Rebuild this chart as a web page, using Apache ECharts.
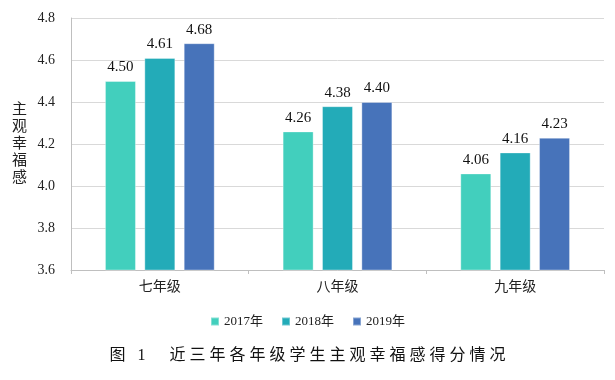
<!DOCTYPE html>
<html><head><meta charset="utf-8">
<script src="https://cdn.jsdelivr.net/npm/echarts@6/dist/echarts.min.js"></script>
<style>html,body{margin:0;padding:0;background:#fff}#c{width:615px;height:380px}</style>
</head><body><div id="c"></div>
<script>
const categories = ['七年级', '八年级', '九年级'];
const seriesNames = ['2017年', '2018年', '2019年'];
const v2017 = [4.50, 4.26, 4.06];
const v2018 = [4.61, 4.38, 4.16];
const v2019 = [4.68, 4.40, 4.23];
const yTicks = ['3.6', '3.8', '4.0', '4.2', '4.4', '4.6', '4.8'];
const yName = '主观幸福感';
const title = '图 1　近三年各年级学生主观幸福感得分情况';

const colors = ['#42CFBD', '#23ABB8', '#4773BA'];
const serif = '"Liberation Serif", "Noto Sans CJK SC", serif';
const vals = [v2017, v2018, v2019];

const chart = echarts.init(document.getElementById('c'), null, {renderer: 'canvas'});
chart.setOption({
  animation: false,
  textStyle: {fontFamily: serif},
  grid: {left: 71, right: 11, top: 18, bottom: 110, containLabel: false},
  legend: {
    bottom: 47, left: 'center',
    itemWidth: 8, itemHeight: 8, itemGap: 18, icon: 'rect',
    textStyle: {fontFamily: serif, fontSize: 13, color: '#222'},
    data: seriesNames
  },
  title: {
    text: title.split('').join(' '),
    left: 'center', bottom: 11,
    textStyle: {fontFamily: serif, fontSize: 16, fontWeight: 'normal', color: '#111'}
  },
  xAxis: {
    type: 'category', data: categories,
    axisLine: {show: true, lineStyle: {color: '#BFBFBF', width: 1}},
    axisTick: {show: true, length: 4, lineStyle: {color: '#BFBFBF'}},
    axisLabel: {fontFamily: serif, fontSize: 14, color: '#222', margin: 10}
  },
  yAxis: {
    type: 'value', min: 3.6, max: 4.8, interval: 0.2,
    name: yName.split('').join('\n'),
    nameLocation: 'middle', nameRotate: 0, nameGap: 44,
    nameTextStyle: {fontFamily: serif, fontSize: 15, color: '#222', lineHeight: 17},
    axisLine: {show: true, lineStyle: {color: '#BFBFBF', width: 1}},
    axisTick: {show: false},
    splitLine: {lineStyle: {color: '#D9D9D9', width: 1}},
    axisLabel: {fontFamily: serif, fontSize: 14, color: '#222', margin: 16,
      formatter: (v) => yTicks[Math.round((v - 3.6) / 0.2)] || v.toFixed(1)}
  },
  series: seriesNames.map((n, i) => ({
    name: n, type: 'bar', data: vals[i],
    barWidth: 31, barGap: '27%',
    itemStyle: {color: colors[i], borderColor: 'rgba(255,255,255,0.35)', borderWidth: 1},
    label: {show: true, position: 'top', distance: 6, fontFamily: serif, fontSize: 15, color: '#111',
      formatter: (p) => p.value.toFixed(2)}
  }))
});
</script></body></html>
